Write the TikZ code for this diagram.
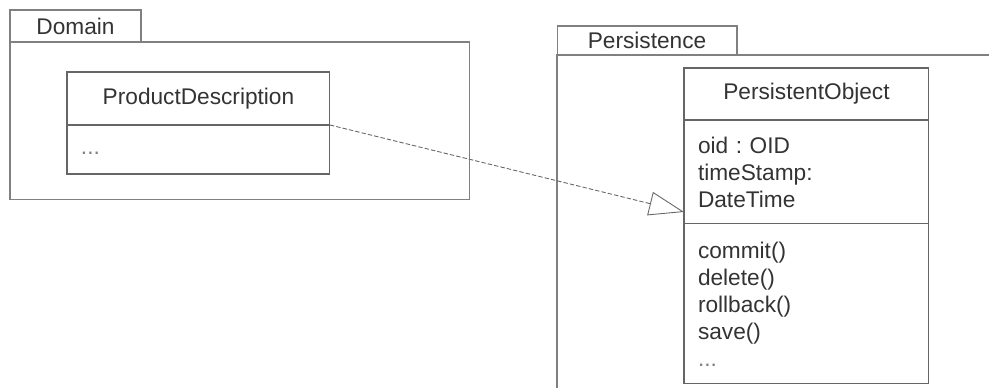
\documentclass[tikz,border=0pt]{standalone}
\usepackage{fontspec}
\setmainfont{Liberation Sans}
\usetikzlibrary{arrows.meta,positioning}

\begin{document}
\begin{tikzpicture}[
        x=0.02cm, y=-0.02cm,
        every node/.style = {font=\fontsize{12.9}{15.4}\selectfont\frenchspacing, text=black!80, outer sep=0pt},
        pkgtab/.style = {rectangle, draw=black!50, line width=0.6pt, inner sep=0pt},
        pkgline/.style = {draw=black!50, line width=0.6pt},
        classpart/.style = {rectangle, draw=black!60, line width=0.6pt, minimum width=#1, text width=#1-0.56cm, inner xsep=0.28cm, inner ysep=0pt, align=left},
        classname/.style = {rectangle, draw=black!60, line width=0.6pt, minimum width=#1, inner sep=0pt, align=center},
        realize/.style = {-{Triangle[open, length=0.7cm, width=0.48cm]}, draw=black!60, line width=0.5pt, dash pattern=on 2.5pt off 1.2pt}
        ]
        \useasboundingbox (0,0) rectangle (989,388);
        % Domain package
        \node[pkgtab, minimum width=2.62cm, minimum height=0.64cm] (domaintab) at (75.5,26) {Domain};
        \node[pkgtab, minimum width=9.2cm, minimum height=3.16cm, anchor=north west] (domain) at (domaintab.south west) {};
        \node[classname=5.26cm, minimum height=1.06cm, anchor=north west] (pdname) at (67,72) {ProductDescription};
        \node[classpart=5.26cm, minimum height=0.98cm, below=0pt of pdname] (pdattr) {\strut\color{black!50}...};
        % Persistence package
        \node[pkgtab, minimum width=3.6cm, minimum height=0.58cm] (perstab) at (647,40.5) {Persistence};
        \coordinate (persend) at (989,55);
        \coordinate (persfoot) at (557,388);
        \draw[pkgline] (persfoot) |- (persend);
        \node[classname=4.9cm, minimum height=1.04cm, anchor=north west] (poname) at (684,68) {PersistentObject};
        \node[classpart=4.9cm, minimum height=2.08cm, below=0pt of poname] (poattr) {oid : OID\\timeStamp:\\DateTime};
        \node[classpart=4.9cm, minimum height=3.2cm, below=0pt of poattr] (poops) {commit()\\delete()\\rollback()\\save()\\{\color{black!50}...}};
        % dependency
        \draw[realize] (pdname.south east) -- ([yshift=0.24cm]poattr.south west);
\end{tikzpicture}
\end{document}
